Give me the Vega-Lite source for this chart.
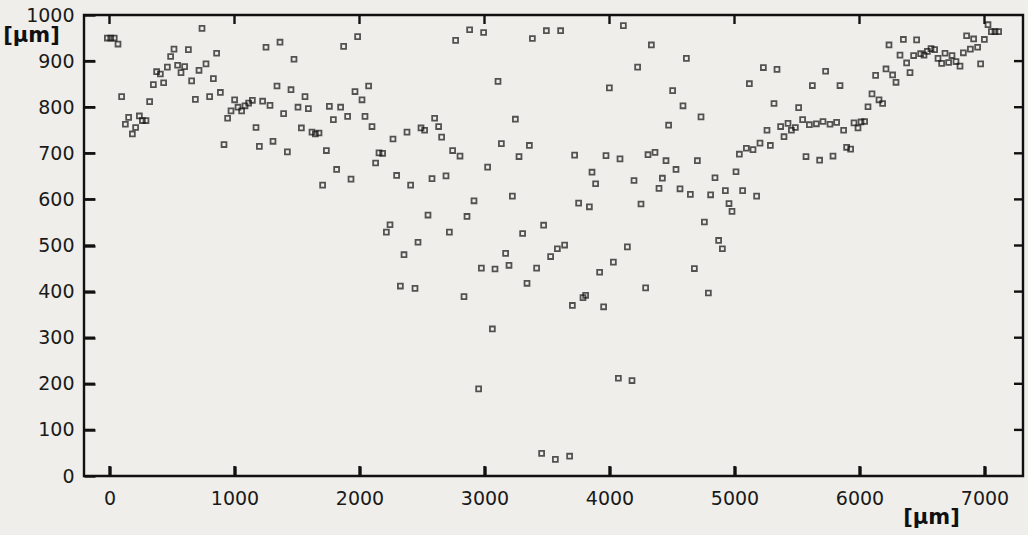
{
"$schema": "https://vega.github.io/schema/vega-lite/v6.json",
"width": 939, "height": 461,
"autosize": "none",
"padding": {"left": 84, "top": 15, "right": 5, "bottom": 59},
"background": "#efeeea",
"config": {"view": {"stroke": "#111111", "strokeWidth": 2.4}, "font": "DejaVu Sans",
  "axis": {"ticks": true, "tickColor": "#111111", "tickWidth": 2.4, "domain": false, "grid": false, "labelColor": "#1a1a1a", "labelFontSize": 19, "labelFlush": false, "titleColor": "#111", "titleFontSize": 21, "titleFontWeight": "bold"}},
"datasets": {
"pts": [
{"x":-17,"y":950},{"x":10,"y":950},{"x":38,"y":950},{"x":68,"y":937},{"x":97,"y":823},{"x":153,"y":778},{"x":127,"y":763},{"x":183,"y":742},{"x":209,"y":756},{"x":239,"y":781},{"x":263,"y":771},{"x":292,"y":771},{"x":321,"y":812},{"x":351,"y":849},{"x":377,"y":877},{"x":407,"y":872},{"x":433,"y":853},{"x":463,"y":887},{"x":489,"y":910},{"x":516,"y":926},{"x":545,"y":891},{"x":572,"y":875},{"x":601,"y":888},{"x":631,"y":925},{"x":657,"y":857},{"x":687,"y":817},{"x":716,"y":880},{"x":740,"y":971},{"x":772,"y":894},{"x":801,"y":823},{"x":831,"y":862},{"x":857,"y":917},{"x":887,"y":832},{"x":916,"y":719},{"x":945,"y":776},{"x":972,"y":792},{"x":1001,"y":816},{"x":1028,"y":800},
{"x":1057,"y":792},{"x":1084,"y":803},{"x":1113,"y":809},{"x":1143,"y":815},{"x":1172,"y":756},{"x":1199,"y":715},{"x":1225,"y":813},{"x":1252,"y":930},{"x":1284,"y":804},{"x":1308,"y":726},{"x":1340,"y":846},{"x":1364,"y":941},{"x":1393,"y":786},{"x":1423,"y":703},{"x":1452,"y":838},{"x":1476,"y":904},{"x":1508,"y":800},{"x":1535,"y":755},{"x":1564,"y":823},{"x":1591,"y":797},{"x":1620,"y":746},{"x":1647,"y":742},{"x":1676,"y":744},{"x":1705,"y":631},{"x":1735,"y":706},{"x":1759,"y":802},{"x":1791,"y":773},{"x":1817,"y":665},{"x":1849,"y":800},{"x":1873,"y":932},{"x":1905,"y":780},{"x":1932,"y":644},{"x":1964,"y":834},{"x":1985,"y":953},{"x":2020,"y":816},{"x":2044,"y":780},{"x":2073,"y":846},{"x":2100,"y":758},{"x":2129,"y":679},{"x":2156,"y":701},{"x":2185,"y":700},{"x":2215,"y":529},{"x":2244,"y":545},{"x":2268,"y":731},{"x":2297,"y":652},
{"x":2327,"y":412},{"x":2356,"y":480},{"x":2409,"y":631},{"x":2444,"y":407},{"x":2468,"y":507},{"x":2380,"y":746},{"x":2492,"y":755},{"x":2521,"y":750},{"x":2548,"y":566},{"x":2580,"y":645},{"x":2601,"y":776},{"x":2633,"y":758},{"x":2657,"y":735},{"x":2692,"y":651},{"x":2719,"y":529},{"x":2745,"y":706},{"x":2769,"y":945},{"x":2804,"y":694},{"x":2836,"y":389},{"x":2860,"y":563},{"x":2881,"y":968},{"x":2916,"y":597},{"x":2953,"y":189},{"x":2975,"y":451},{"x":2993,"y":962},{"x":3025,"y":670},{"x":3063,"y":319},{"x":3084,"y":449},{"x":3108,"y":856},{"x":3135,"y":721},{"x":3169,"y":483},{"x":3196,"y":457},{"x":3223,"y":607},{"x":3247,"y":774},{"x":3276,"y":693},{"x":3305,"y":526},{"x":3340,"y":418},{"x":3359,"y":717},{"x":3383,"y":949},{"x":3417,"y":451},{"x":3457,"y":49},{"x":3473,"y":544},{"x":3495,"y":966},{"x":3529,"y":476},
{"x":3567,"y":36},{"x":3583,"y":493},{"x":3609,"y":966},{"x":3641,"y":501},{"x":3681,"y":43},{"x":3703,"y":370},{"x":3721,"y":696},{"x":3753,"y":592},{"x":3788,"y":387},{"x":3809,"y":392},{"x":3839,"y":584},{"x":3860,"y":659},{"x":3889,"y":634},{"x":3921,"y":442},{"x":3953,"y":367},{"x":3972,"y":695},{"x":3999,"y":842},{"x":4031,"y":464},{"x":4071,"y":212},{"x":4084,"y":688},{"x":4111,"y":977},{"x":4143,"y":497},{"x":4180,"y":207},{"x":4196,"y":641},{"x":4225,"y":887},{"x":4252,"y":590},{"x":4289,"y":408},{"x":4308,"y":697},{"x":4335,"y":935},{"x":4364,"y":702},{"x":4396,"y":624},{"x":4423,"y":646},{"x":4452,"y":684},{"x":4473,"y":761},{"x":4505,"y":836},{"x":4532,"y":665},{"x":4564,"y":623},{"x":4588,"y":803},{"x":4615,"y":906},{"x":4647,"y":611},{"x":4679,"y":450},{"x":4703,"y":684},{"x":4732,"y":779},{"x":4759,"y":551},{"x":4791,"y":397},
{"x":4809,"y":610},{"x":4844,"y":647},{"x":4873,"y":511},{"x":4903,"y":493},{"x":4927,"y":619},{"x":4956,"y":591},{"x":4980,"y":574},{"x":5012,"y":660},{"x":5039,"y":698},{"x":5065,"y":619},{"x":5095,"y":711},{"x":5119,"y":851},{"x":5148,"y":708},{"x":5177,"y":607},{"x":5204,"y":722},{"x":5231,"y":886},{"x":5260,"y":750},{"x":5287,"y":717},{"x":5316,"y":808},{"x":5340,"y":882},{"x":5369,"y":758},{"x":5396,"y":736},{"x":5428,"y":765},{"x":5455,"y":750},{"x":5487,"y":756},{"x":5513,"y":799},{"x":5545,"y":773},{"x":5572,"y":693},{"x":5599,"y":762},{"x":5623,"y":847},{"x":5655,"y":764},{"x":5681,"y":685},{"x":5708,"y":769},{"x":5729,"y":878},{"x":5764,"y":763},{"x":5788,"y":694},{"x":5817,"y":767},{"x":5844,"y":847},{"x":5873,"y":750},{"x":5897,"y":713},{"x":5929,"y":709},{"x":5956,"y":766},{"x":5988,"y":755},{"x":6012,"y":768},{"x":6041,"y":769},
{"x":6068,"y":801},{"x":6100,"y":829},{"x":6129,"y":869},{"x":6156,"y":816},{"x":6185,"y":808},{"x":6212,"y":883},{"x":6236,"y":935},{"x":6265,"y":870},{"x":6292,"y":854},{"x":6324,"y":913},{"x":6351,"y":947},{"x":6377,"y":896},{"x":6404,"y":875},{"x":6433,"y":912},{"x":6457,"y":946},{"x":6489,"y":916},{"x":6516,"y":913},{"x":6543,"y":921},{"x":6572,"y":927},{"x":6601,"y":925},{"x":6628,"y":906},{"x":6657,"y":895},{"x":6684,"y":917},{"x":6713,"y":897},{"x":6740,"y":912},{"x":6772,"y":899},{"x":6804,"y":889},{"x":6831,"y":918},{"x":6857,"y":955},{"x":6887,"y":926},{"x":6913,"y":948},{"x":6945,"y":930},{"x":6969,"y":894},{"x":6999,"y":947},{"x":7028,"y":979},{"x":7055,"y":964},{"x":7084,"y":964},{"x":7113,"y":964}
],
"xticks": [{"t":0},{"t":1000},{"t":2000},{"t":3000},{"t":4000},{"t":5000},{"t":6000},{"t":7000}],
"yticks": [{"t":100},{"t":200},{"t":300},{"t":400},{"t":500},{"t":600},{"t":700},{"t":800},{"t":900}]
},
"layer": [
{"data": {"name": "pts"},
 "mark": {"type": "point", "shape": "square", "filled": false, "size": 24, "strokeWidth": 1.8, "color": "#111111"},
 "encoding": {
  "x": {"field": "x", "type": "quantitative", "scale": {"domain": [-204, 7308], "nice": false, "zero": false},
   "axis": {"values": [0,1000,2000,3000,4000,5000,6000,7000], "offset": -10, "tickSize": 10, "labelPadding": 13, "labelExpr": "'' + datum.value",
    "title": "[µm]", "titleX": 847, "titleY": 51, "titleAlign": "center", "titleBaseline": "middle"}},
  "y": {"field": "y", "type": "quantitative", "scale": {"domain": [0, 1000], "nice": false, "zero": false},
   "axis": {"values": [0,100,200,300,400,500,600,700,800,900,1000], "offset": -11, "tickSize": 11, "labelPadding": 10, "labelExpr": "'' + datum.value",
    "title": "[µm]", "titleAngle": 0, "titleX": -64, "titleY": 20, "titleAlign": "center", "titleBaseline": "middle"}}
 }},
{"data": {"name": "xticks"},
 "mark": {"type": "point", "shape": "M0,0L0,-2", "size": 100, "filled": false, "strokeWidth": 2.4, "color": "#111111", "opacity": 1},
 "encoding": {"x": {"field": "t", "type": "quantitative"}, "y": {"datum": 0}}},
{"data": {"name": "xticks"},
 "mark": {"type": "point", "shape": "M0,0L0,2", "size": 81, "filled": false, "strokeWidth": 2.4, "color": "#111111", "opacity": 1},
 "encoding": {"x": {"field": "t", "type": "quantitative"}, "y": {"datum": 1000}}},
{"data": {"name": "yticks"},
 "mark": {"type": "point", "shape": "M0,0L2,0", "size": 121, "filled": false, "strokeWidth": 2.4, "color": "#111111", "opacity": 1},
 "encoding": {"y": {"field": "t", "type": "quantitative"}, "x": {"datum": -204}}},
{"data": {"name": "yticks"},
 "mark": {"type": "point", "shape": "M0,0L-2,0", "size": 81, "filled": false, "strokeWidth": 2.4, "color": "#111111", "opacity": 1},
 "encoding": {"y": {"field": "t", "type": "quantitative"}, "x": {"datum": 7308}}}
]
}
